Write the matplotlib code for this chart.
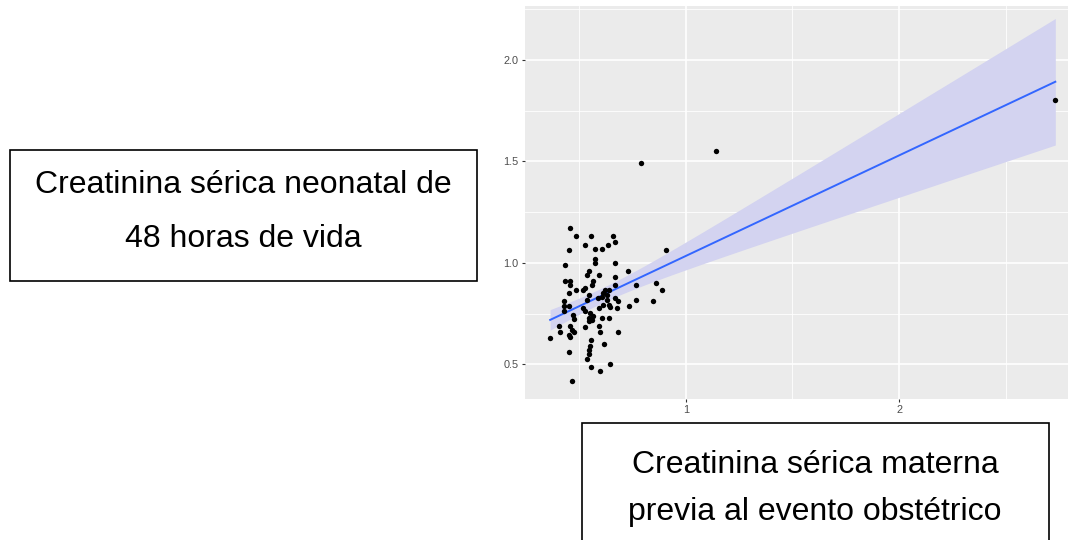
import numpy as np
import matplotlib
matplotlib.use("Agg")
import matplotlib.pyplot as plt
from matplotlib.patches import Rectangle

plt.rcParams['font.family'] = ['Liberation Sans', 'DejaVu Sans']

# creatinina materna (x) vs neonatal 48 h (y)
materna = [0.459, 0.486, 0.556, 0.659, 0.528, 0.670, 0.636, 0.575, 0.608, 0.450,
           0.906, 0.575, 0.575, 0.434, 0.669, 0.545, 0.536, 0.591, 0.728, 0.669,
           0.434, 0.458, 0.458, 0.567, 0.559, 0.528, 0.520, 0.486, 0.450, 0.669,
           0.766, 0.859, 0.889, 0.622, 0.638, 0.614, 0.630, 0.544, 0.606, 0.588,
           0.670, 0.630, 0.427, 0.536, 0.766, 0.684, 0.845, 0.427, 0.450, 0.614,
           0.638, 0.520, 0.528, 0.427, 0.591, 0.677, 0.645, 0.736, 0.470, 0.552,
           0.544, 0.567, 0.606, 0.638, 0.478, 0.544, 0.559, 0.406, 0.458, 0.528,
           0.591, 0.466, 0.477, 0.408, 0.598, 0.680, 0.450, 0.458, 0.364, 0.556,
           0.617, 0.552, 0.545, 0.450, 0.544, 0.536, 0.645, 0.556, 0.598, 0.467,
           0.790, 1.141, 2.733]
neonatal = [1.171, 1.131, 1.131, 1.131, 1.090, 1.103, 1.090, 1.071, 1.071, 1.062,
            1.062, 1.021, 1.000, 0.992, 1.000, 0.959, 0.943, 0.943, 0.959, 0.931,
            0.910, 0.910, 0.890, 0.910, 0.893, 0.877, 0.869, 0.869, 0.852, 0.893,
            0.893, 0.901, 0.869, 0.869, 0.869, 0.852, 0.844, 0.844, 0.831, 0.828,
            0.828, 0.819, 0.814, 0.819, 0.819, 0.811, 0.811, 0.790, 0.790, 0.795,
            0.795, 0.778, 0.762, 0.762, 0.778, 0.778, 0.783, 0.787, 0.745, 0.754,
            0.729, 0.737, 0.729, 0.729, 0.724, 0.716, 0.721, 0.691, 0.691, 0.683,
            0.691, 0.672, 0.658, 0.658, 0.658, 0.658, 0.647, 0.635, 0.631, 0.619,
            0.601, 0.589, 0.570, 0.560, 0.552, 0.529, 0.502, 0.489, 0.470, 0.420,
            1.494, 1.552, 1.804]

x = np.array(materna)
y = np.array(neonatal)

# lm fit + 95% CI like geom_smooth(method="lm")
n = len(x)
b1, b0 = np.polyfit(x, y, 1)
res = y - (b0 + b1 * x)
s = np.sqrt(np.sum(res ** 2) / (n - 2))
sxx = np.sum((x - x.mean()) ** 2)
xs = np.linspace(x.min(), x.max(), 80)
fit = b0 + b1 * xs
se = s * np.sqrt(1 / n + (xs - x.mean()) ** 2 / sxx)
tval = 1.986
lo = fit - tval * se
hi = fit + tval * se

fig = plt.figure(figsize=(10.68, 5.4), dpi=100)
W, H = 1068, 540

ax = fig.add_axes([525 / W, 1 - 398.8 / H, (1080.7 - 525) / W, (398.8 - 6.2) / H])
ax.set_facecolor('#EBEBEB')
for sp in ax.spines.values():
    sp.set_visible(False)

ax.set_xticks([1, 2])
ax.set_xticklabels(['1', '2'])
ax.set_yticks([0.5, 1.0, 1.5, 2.0])
ax.set_yticklabels(['0.5', '1.0', '1.5', '2.0'])
ax.set_xticks([0.5, 1.5, 2.5], minor=True)
ax.set_yticks([0.75, 1.25, 1.75, 2.25], minor=True)
ax.grid(which='major', color='white', linewidth=1.2)
ax.grid(which='minor', color='white', linewidth=0.6)
ax.set_axisbelow(True)
ax.tick_params(which='major', length=2.5, width=0.8, color='#333333',
               labelsize=7.8, labelcolor='#4D4D4D', pad=2)
ax.tick_params(which='minor', length=0)

ax.fill_between(xs, lo, hi, color='#D3D3F0', linewidth=0, zorder=2)
ax.plot(xs, fit, color='#3366FF', linewidth=1.4, zorder=3)
ax.scatter(x, y, s=15, color='black', linewidths=0, zorder=4)

ax.set_xlim(0.246, 2.852)
ax.set_ylim(0.331, 2.265)

# text boxes
def box(x0, y0, x1, y1):
    fig.patches.append(Rectangle((x0 / W, 1 - y1 / H), (x1 - x0) / W, (y1 - y0) / H,
                                 transform=fig.transFigure, fill=False,
                                 edgecolor='black', linewidth=1.2))

def label(txt, cx, base):
    fig.text(cx / W, 1 - base / H, txt, ha='center', va='baseline',
             fontsize=23, color='black')

box(10, 150, 477, 281)
label('Creatinina sérica neonatal de', 243.5, 193.3)
label('48 horas de vida', 243.5, 246.7)

box(581.7, 422.7, 1049, 560)
label('Creatinina sérica materna', 815, 473)
label('previa al evento obstétrico', 815, 520)

fig.savefig('out.png', dpi=100)
